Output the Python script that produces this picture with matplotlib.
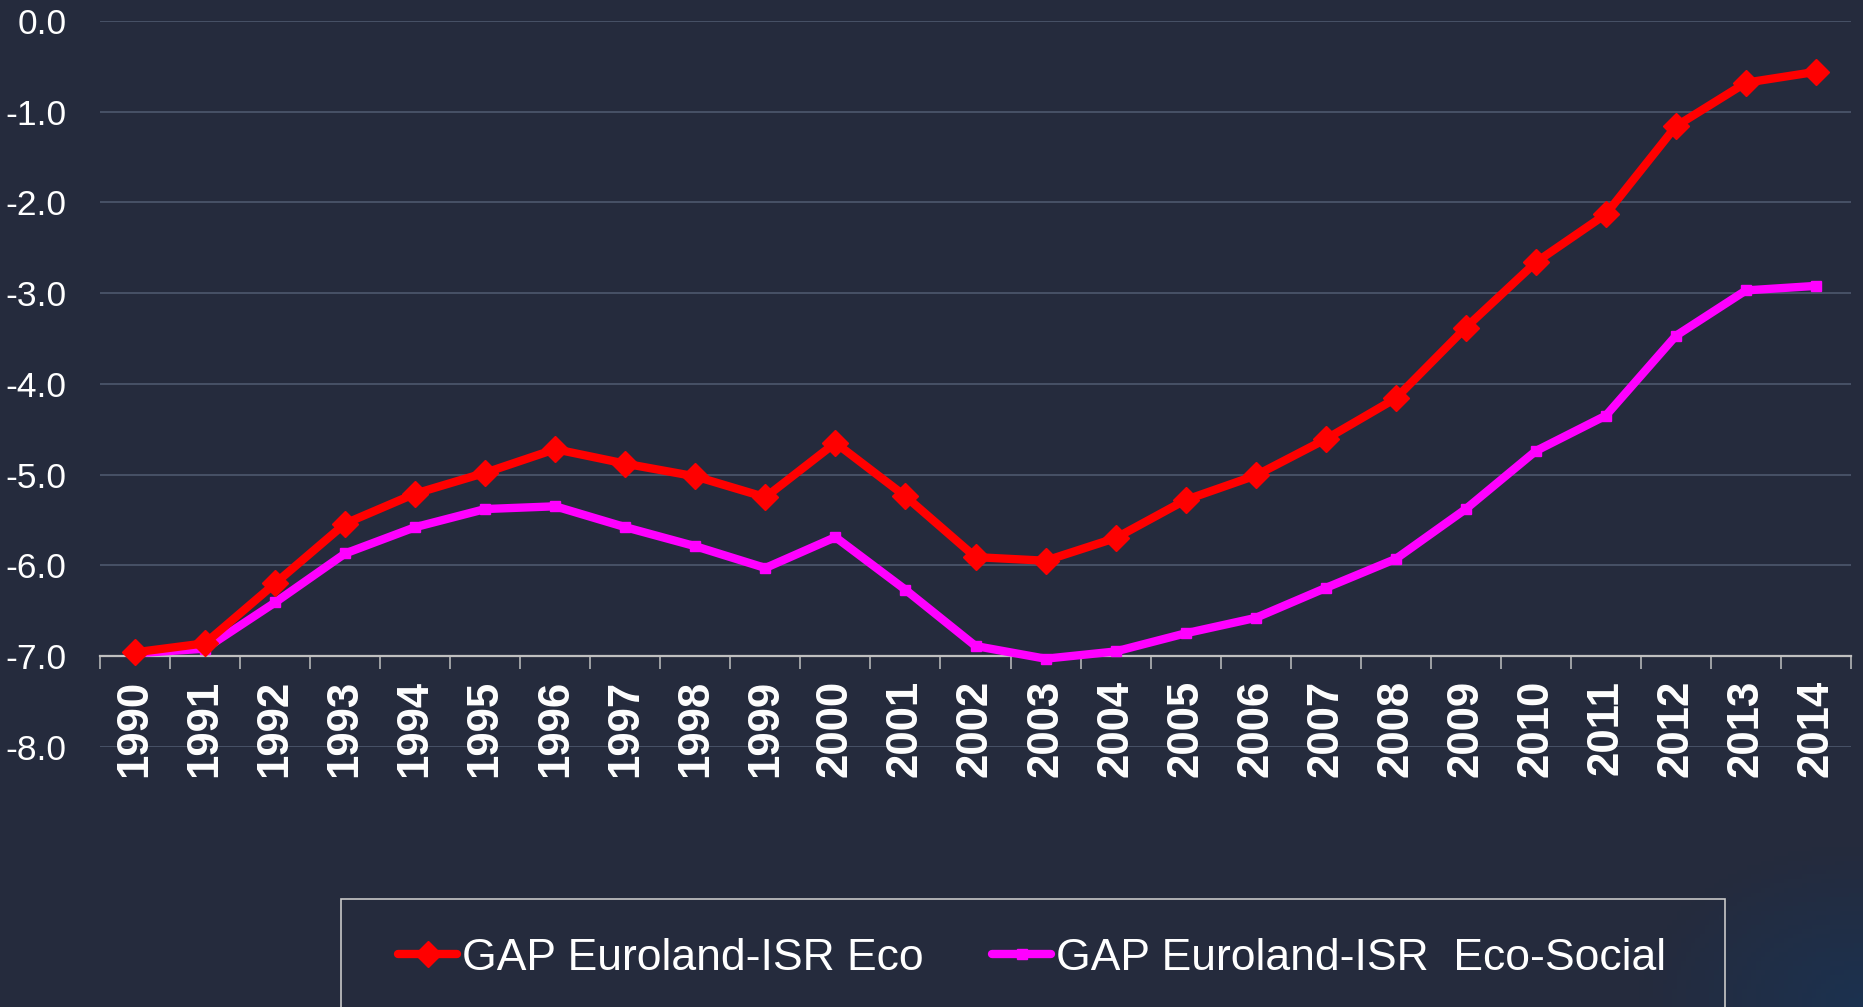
import numpy as np
import matplotlib
matplotlib.use('Agg')
import matplotlib.pyplot as plt
from matplotlib.patches import Rectangle

# ------ data -----
years = [str(y) for y in range(1990, 2015)]
gap_eco = [-6.96, -6.86, -6.20, -5.54, -5.21, -4.98, -4.72, -4.88, -5.02, -5.25,
           -4.65, -5.24, -5.91, -5.95, -5.70, -5.28, -5.01, -4.61, -4.16, -3.38,
           -2.66, -2.13, -1.16, -0.68, -0.56]
gap_eco_social = [-6.97, -6.92, -6.41, -5.87, -5.58, -5.38, -5.35, -5.58, -5.79, -6.03,
                  -5.69, -6.27, -6.89, -7.03, -6.95, -6.75, -6.58, -6.25, -5.93, -5.38,
                  -4.74, -4.35, -3.47, -2.97, -2.92]
labels = ['GAP Euroland-ISR Eco', 'GAP Euroland-ISR  Eco-Social']
yticks = [0, -1, -2, -3, -4, -5, -6, -7, -8]
ytick_labels = ['0.0', '-1.0', '-2.0', '-3.0', '-4.0', '-5.0', '-6.0', '-7.0', '-8.0']

bg = '#252b3d'
plt.rcParams['font.family'] = ['Liberation Sans', 'DejaVu Sans']
plt.rcParams['axes.unicode_minus'] = False

W, H = 1863, 1007
fig = plt.figure(figsize=(W/100, H/100), dpi=100, facecolor=bg)

# faint blue glow in the lower right corner of the slide
gax = fig.add_axes([0, 0, 1, 1], zorder=-5)
gx, gy = np.meshgrid(np.linspace(0, 1, 400), np.linspace(0, 1, 220))
dist = np.sqrt(((gx - 1) / 0.12) ** 2 + ((gy - 0) / 0.16) ** 2)
glow = np.clip(1 - dist, 0, 1)
img = np.zeros((220, 400, 4))
img[..., 0], img[..., 1], img[..., 2] = 0.10, 0.20, 0.33
img[..., 3] = glow * 0.8
gax.set_facecolor(bg)
gax.imshow(img, extent=(0, 1, 0, 1), origin='lower', aspect='auto')
gax.set_xlim(0, 1)
gax.set_ylim(0, 1)
gax.axis('off')

ax = fig.add_axes([100/W, 1-746.7/H, 1751/W, (746.7-21)/H])
ax.set_facecolor(bg)

x = np.arange(len(years))
ax.plot(x, gap_eco, color='#ff0000', lw=6, marker='D', ms=13.5, mew=1,
        solid_joinstyle='round', solid_capstyle='round', label=labels[0], zorder=4)
ax.plot(x, gap_eco_social, color='#ff00ff', lw=6, marker='s', ms=7.5, mew=1,
        solid_joinstyle='round', solid_capstyle='round', label=labels[1], zorder=3)

ax.set_xlim(-0.5, len(years)-0.5)
ax.set_ylim(-8, 0)

# grid
for yy in yticks:
    if yy != -7:
        ax.axhline(yy, color='#4a556a', lw=1.3, zorder=1)

# axes / ticks
for s in ['top', 'right', 'left']:
    ax.spines[s].set_visible(False)
ax.spines['bottom'].set_position(('data', -7))
ax.spines['bottom'].set_color('#c0c0c0')
ax.spines['bottom'].set_linewidth(1.6)
ax.spines['bottom'].set_zorder(2)

ax.set_xticks(np.arange(-0.5, len(years), 1.0))
ax.set_xticklabels([])
ax.tick_params(axis='x', which='major', length=9, width=1.1, color='#c0c0c0', direction='out')
ax.set_xticks(x, minor=True)
ax.set_xticklabels(years, minor=True, rotation=90, fontsize=31.5, fontweight='bold', color='white')
ax.tick_params(axis='x', which='minor', length=0, pad=17)

ax.set_yticks(yticks)
ax.set_yticklabels(ytick_labels, fontsize=25.5, color='white')
ax.tick_params(axis='y', length=0, pad=24)

# legend
fig.patches.append(Rectangle((341/W, -0.1), (1725-341)/W, 0.1+1-899/H, transform=fig.transFigure,
                             facecolor='none', edgecolor='#c8c8c8', lw=1.2))
leg = fig.legend(loc='center left', bbox_to_anchor=(398/W, 1-958/H), ncol=2, frameon=False,
                 fontsize=32, handlelength=1.33, handletextpad=0.1, columnspacing=1.55,
                 borderpad=0, borderaxespad=0, labelcolor='white')

fig.savefig('out.png', dpi=100, facecolor=bg)
